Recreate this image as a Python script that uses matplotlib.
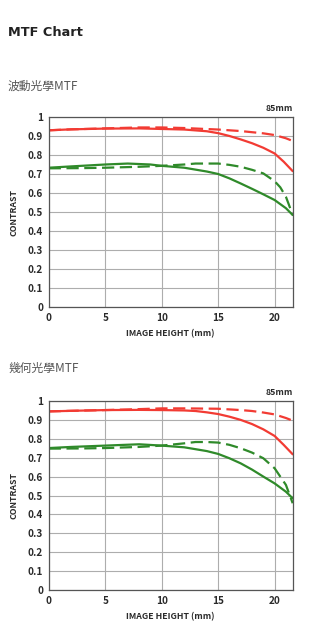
import matplotlib
matplotlib.use("Agg")
import matplotlib.pyplot as plt

plt.rcParams['font.family'] = ['Noto Sans CJK TC', 'DejaVu Sans']

# Wave optics MTF (top)
x_wave_red_s = [0, 2, 5, 8, 10, 12, 14, 15, 16, 17, 18, 19, 20, 20.8, 21.6]
y_wave_red_s = [0.930, 0.935, 0.939, 0.940, 0.937, 0.934, 0.925, 0.915, 0.900, 0.882, 0.862, 0.838, 0.808, 0.765, 0.715]
x_wave_red_d = [0, 2, 5, 8, 10, 12, 15, 17, 18, 19, 20, 21, 21.6]
y_wave_red_d = [0.930, 0.935, 0.940, 0.945, 0.945, 0.942, 0.934, 0.926, 0.920, 0.914, 0.905, 0.888, 0.874]
x_wave_grn_s = [0, 2, 5, 7, 9, 10, 12, 14, 15, 16, 17, 18, 19, 20, 21, 21.6]
y_wave_grn_s = [0.733, 0.740, 0.750, 0.755, 0.750, 0.743, 0.733, 0.713, 0.700, 0.677, 0.650, 0.622, 0.593, 0.563, 0.520, 0.484]
x_wave_grn_d = [0, 3, 5, 8, 10, 12, 13, 15, 16, 17, 18, 19, 20, 20.5, 21, 21.6]
y_wave_grn_d = [0.730, 0.731, 0.733, 0.738, 0.743, 0.750, 0.755, 0.755, 0.748, 0.738, 0.722, 0.703, 0.662, 0.630, 0.580, 0.485]

# Geometric optics MTF (bottom)
x_geo_red_s = [0, 2, 5, 8, 10, 12, 13, 14, 15, 16, 17, 18, 19, 20, 20.8, 21.6]
y_geo_red_s = [0.945, 0.948, 0.952, 0.953, 0.952, 0.950, 0.947, 0.940, 0.931, 0.917, 0.900, 0.878, 0.850, 0.815, 0.768, 0.718]
x_geo_red_d = [0, 2, 5, 8, 10, 12, 15, 17, 18, 19, 20, 21, 21.6]
y_geo_red_d = [0.945, 0.948, 0.952, 0.957, 0.961, 0.961, 0.959, 0.952, 0.947, 0.939, 0.929, 0.910, 0.896]
x_geo_grn_s = [0, 2, 5, 8, 10, 12, 14, 15, 16, 17, 18, 19, 20, 21, 21.6]
y_geo_grn_s = [0.751, 0.757, 0.764, 0.771, 0.764, 0.755, 0.735, 0.720, 0.697, 0.670, 0.637, 0.600, 0.564, 0.520, 0.485]
x_geo_grn_d = [0, 3, 5, 8, 10, 12, 13, 14, 15, 16, 17, 18, 19, 20, 20.5, 21, 21.6]
y_geo_grn_d = [0.748, 0.749, 0.751, 0.757, 0.764, 0.776, 0.783, 0.783, 0.780, 0.768, 0.750, 0.727, 0.697, 0.644, 0.600, 0.556, 0.459]

x_ticks = [0, 5, 10, 15, 20]
y_ticks = [0, 0.1, 0.2, 0.3, 0.4, 0.5, 0.6, 0.7, 0.8, 0.9, 1]
y_tick_labels = ['0', '0.1', '0.2', '0.3', '0.4', '0.5', '0.6', '0.7', '0.8', '0.9', '1']

RED = '#f23b33'
GREEN = '#2f8a2a'
TXT = '#2a2a2a'

fig = plt.figure(figsize=(3.27, 6.40), dpi=100)
W, H = 327, 640

def make_axes(top_px, bottom_px, data, title, title_y):
    left, right = 48.7, 292.7
    ax = fig.add_axes([left / W, 1 - bottom_px / H, (right - left) / W, (bottom_px - top_px) / H])
    for (xs, ys, color, ls) in data:
        if ls == '--':
            ax.plot(xs, ys, color=color, lw=1.6, ls='--', dashes=(5.5, 2.5))
        else:
            ax.plot(xs, ys, color=color, lw=1.6, ls='-', solid_capstyle='round')
    ax.set_xlim(0, 21.6)
    ax.set_ylim(0, 1)
    ax.set_xticks(x_ticks)
    ax.set_yticks(y_ticks)
    ax.set_yticklabels(y_tick_labels)
    ax.grid(True, color='#adadad', lw=0.8)
    ax.set_axisbelow(True)
    for s in ax.spines.values():
        s.set_color('#555555')
        s.set_linewidth(0.9)
    ax.tick_params(length=0, pad=4, labelsize=7.2, labelcolor=TXT)
    for lab in ax.get_xticklabels() + ax.get_yticklabels():
        lab.set_fontweight('bold')
    ax.set_xlabel('IMAGE HEIGHT (mm)', fontsize=6.3, color=TXT, fontweight='bold', labelpad=5)
    ax.set_ylabel('CONTRAST', fontsize=6.3, color=TXT, fontweight='bold', labelpad=7)
    ax.text(1.0, 1.02, '85mm', transform=ax.transAxes, ha='right', va='bottom',
            fontsize=6.3, color=TXT, fontweight='bold')
    fig.text(8 / W, 1 - title_y / H, title, fontsize=8.5, color='#555555', va='center', ha='left')
    return ax

fig.text(8 / W, 1 - 32 / H, 'MTF Chart', fontsize=9.3, fontweight='bold', color='#222222',
         va='center', ha='left', family=['DejaVu Sans'])

make_axes(117, 307, [
    (x_wave_red_d, y_wave_red_d, RED, '--'),
    (x_wave_red_s, y_wave_red_s, RED, '-'),
    (x_wave_grn_d, y_wave_grn_d, GREEN, '--'),
    (x_wave_grn_s, y_wave_grn_s, GREEN, '-'),
], '波動光學MTF', 86)

make_axes(401, 590, [
    (x_geo_red_d, y_geo_red_d, RED, '--'),
    (x_geo_red_s, y_geo_red_s, RED, '-'),
    (x_geo_grn_d, y_geo_grn_d, GREEN, '--'),
    (x_geo_grn_s, y_geo_grn_s, GREEN, '-'),
], '幾何光學MTF', 368)

fig.savefig('out.png', dpi=100, facecolor='white')
